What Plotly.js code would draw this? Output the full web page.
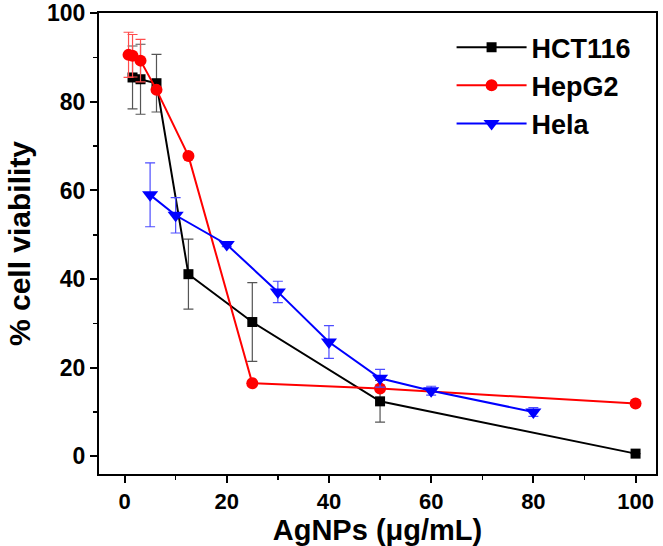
<!DOCTYPE html>
<html>
<head>
<meta charset="utf-8">
<script src="https://cdn.plot.ly/plotly-3.0.1.min.js"></script>
<style>html,body{margin:0;padding:0;background:#fff;}#chart{width:663px;height:546px;}</style>
</head>
<body>
<div id="chart"></div>
<script>
// Data
const hctX = [1.5625, 3.125, 6.25, 12.5, 25, 50, 100];
const hctY = [85.5, 85.1, 84.2, 41.1, 30.3, 12.4, 0.6];
const hctErr = [7.1, 7.9, 6.5, 7.9, 8.9, 4.7, 0];

const hepX = [0.78125, 1.5625, 3.125, 6.25, 12.5, 25, 50, 100];
const hepY = [90.6, 90.4, 89.3, 82.7, 67.8, 16.5, 15.3, 11.9];
const hepErr = [5.1, 4.8, 4.8, 0.5, 0.5, 0.3, 0.5, 0.3];

const helaX = [5, 10, 20, 30, 40, 50, 60, 80];
const helaY = [59.0, 54.4, 47.8, 37.1, 25.8, 17.6, 14.8, 10.0];
const helaErr = [7.2, 4.0, 0.5, 2.4, 3.7, 2.0, 1.0, 1.0];

const seriesNames = ["HCT116", "HepG2", "Hela"];
const xTickVals = [0, 20, 40, 60, 80, 100];
const yTickVals = [0, 20, 40, 60, 80, 100];

const FONT = "Liberation Sans, Arial, Helvetica, sans-serif";

const traces = [
  {
    x: hctX, y: hctY, name: seriesNames[0], type: "scatter", mode: "lines+markers",
    line: {color: "#000000", width: 2},
    marker: {symbol: "square", size: 10, color: "#000000"},
    error_y: {type: "data", array: hctErr, visible: true, color: "#555555", thickness: 1.2, width: 5}
  },
  {
    x: hepX, y: hepY, name: seriesNames[1], type: "scatter", mode: "lines+markers",
    line: {color: "#ff0000", width: 2},
    marker: {symbol: "circle", size: 12, color: "#ff0000"},
    error_y: {type: "data", array: hepErr, visible: true, color: "#ff4d4d", thickness: 1.2, width: 5}
  },
  {
    x: helaX, y: helaY, name: seriesNames[2], type: "scatter", mode: "lines+markers",
    line: {color: "#0000ff", width: 2},
    marker: {symbol: "triangle-down", size: 14, color: "#0000ff"},
    error_y: {type: "data", array: helaErr, visible: true, color: "#4d4dff", thickness: 1.2, width: 5}
  }
];

const layout = {
  width: 663, height: 546,
  margin: {l: 99, r: 7, t: 13, b: 72},
  paper_bgcolor: "#ffffff", plot_bgcolor: "#ffffff",
  font: {family: FONT, color: "#000000"},
  showlegend: true,
  legend: {
    x: 0.633, y: 0.978, xanchor: "left", yanchor: "top",
    bgcolor: "rgba(0,0,0,0)", borderwidth: 0,
    font: {family: FONT, size: 27, color: "#000000", weight: "bold"},
    itemwidth: 70, tracegroupgap: 0
  },
  xaxis: {
    range: [-5, 104], tickvals: xTickVals, ticktext: xTickVals.map(String),
    showline: true, linecolor: "#000000", linewidth: 2, mirror: true,
    ticks: "outside", ticklen: 7, tickwidth: 2, tickcolor: "#000000",
    minor: {dtick: 10, tick0: 0, ticks: "outside", ticklen: 4, tickwidth: 1.5, tickcolor: "#000000"},
    showgrid: false, zeroline: false,
    tickfont: {family: FONT, size: 22, weight: "bold"},
    title: {text: "AgNPs (μg/mL)", font: {family: FONT, size: 29, weight: "bold"}, standoff: 4}
  },
  yaxis: {
    range: [-4, 100.05], tickvals: yTickVals, ticktext: yTickVals.map(String),
    showline: true, linecolor: "#000000", linewidth: 2, mirror: true,
    ticks: "outside", ticklen: 7, tickwidth: 2, tickcolor: "#000000",
    minor: {dtick: 10, tick0: 0, ticks: "outside", ticklen: 4, tickwidth: 1.5, tickcolor: "#000000"},
    showgrid: false, zeroline: false,
    tickfont: {family: FONT, size: 23, weight: "bold"},
    title: {text: "% cell viability", font: {family: FONT, size: 30, weight: "bold"}, standoff: 8}
  }
};

Plotly.newPlot("chart", traces, layout, {displayModeBar: false, staticPlot: true});
</script>
</body>
</html>
